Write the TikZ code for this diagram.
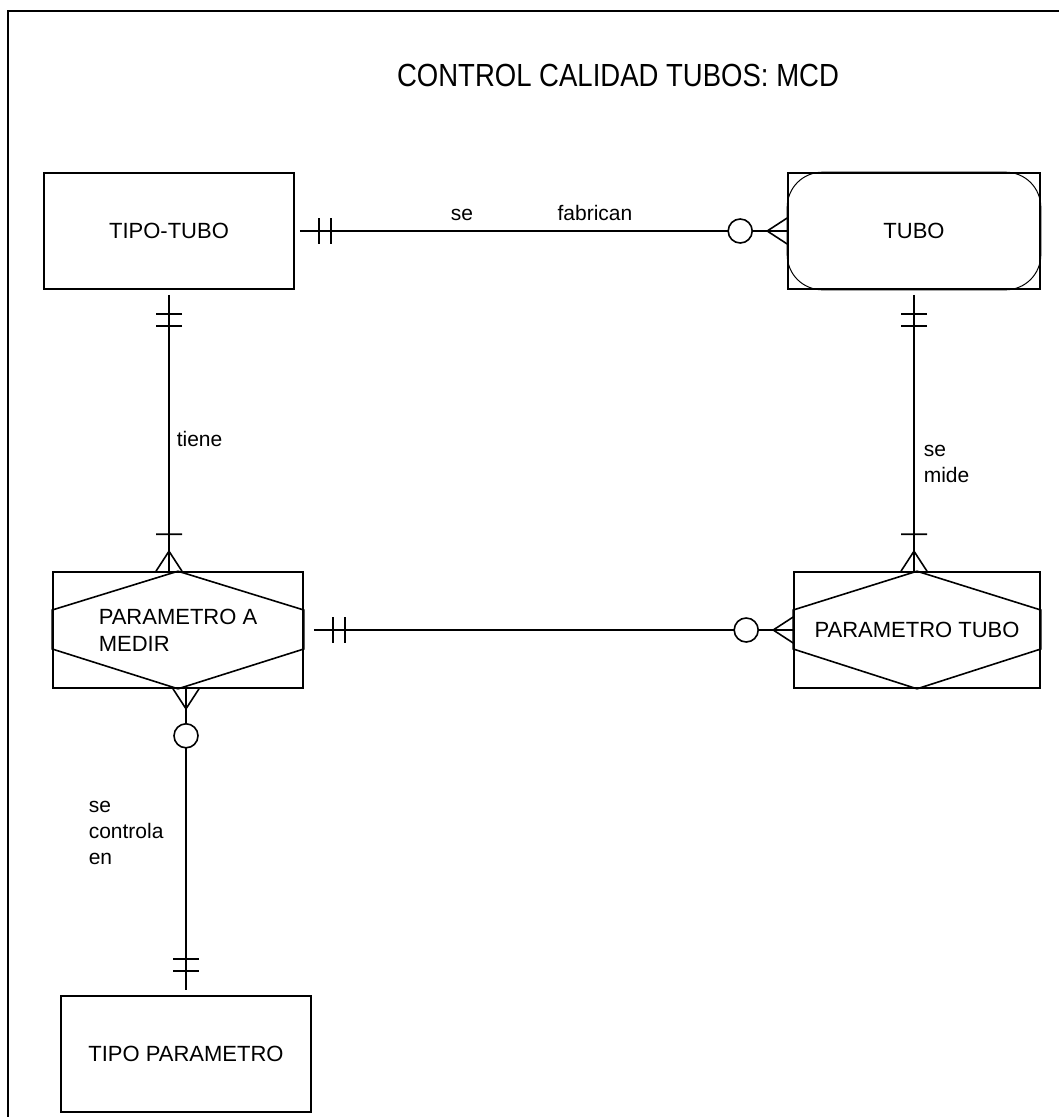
\documentclass[tikz,border=0pt]{standalone}
\usepackage{fontspec}
\setmainfont{Liberation Sans}
\usetikzlibrary{calc}

\tikzset{
  entity/.style={draw, minimum width=250pt, minimum height=116pt, inner sep=0pt,
    font=\fontsize{22}{27}\selectfont, align=center},
  relline/.style={line width=1.6pt},
  lbl/.style={font=\fontsize{21}{26}\selectfont, inner sep=0pt, align=left},
  titletext/.style={font=\fontsize{32}{36}\selectfont, inner sep=0pt, xscale=0.86},
  % cardinality marks, +x points away from the box
  onemark/.pic={\draw (24,-13) -- (24,13) (36,-13) -- (36,13);},
  manyone/.pic={\draw (0,-13) -- (20,0) -- (0,13) (0,0) -- (20,0) (37,-13) -- (37,13);},
  manyzero/.pic={\draw (0,-13) -- (20,0) -- (0,13) (0,0) -- (20,0);
    \draw[fill=white] (47,0) circle[radius=12pt];}
}

\begin{document}
\begin{tikzpicture}[x=1pt, y=-1pt, line width=1.6pt]
  \useasboundingbox (0,0) rectangle (1059,1117);
  \draw (8,1117) -- (8,11) -- (1059,11);

  \node[titletext] (title) at (618,75) {CONTROL CALIDAD TUBOS: MCD};

  % entities
  \node[entity] (ttubo) at (169,231) {TIPO-TUBO};
  \node[entity, minimum width=252pt] (tubo) at (914,231) {TUBO};
  \draw[line width=1pt, rounded corners=35pt] (tubo.north west) rectangle (tubo.south east);
  \node[entity, align=left] (pmedir) at (178,630) {PARAMETRO A\\MEDIR};
  \node[entity, minimum width=246pt] (ptubo) at (917,630) {PARAMETRO TUBO};
  \node[entity] (tparam) at (186,1054) {TIPO PARAMETRO};

  % associative entities
  \draw (pmedir.north) -- ($(pmedir.west)+(0,-20)$) -- ($(pmedir.west)+(0,19)$) -- (pmedir.south)
    -- ($(pmedir.east)+(0,19)$) -- ($(pmedir.east)+(0,-20)$) -- cycle;
  \draw (ptubo.north) -- ($(ptubo.west)+(0,-20)$) -- ($(ptubo.west)+(0,19)$) -- (ptubo.south)
    -- ($(ptubo.east)+(0,19)$) -- ($(ptubo.east)+(0,-20)$) -- cycle;

  \coordinate (pmtop) at (ttubo.south |- pmedir.north);
  \coordinate (pttop) at (tubo.south |- ptubo.north);
  \coordinate (pmbot) at (tparam.north |- pmedir.south);

  % relationships
  \draw[relline, shorten <=5pt] (ttubo.east) -- (tubo.west);
  \draw[relline, shorten <=5pt] (ttubo.south) -- (pmtop);
  \draw[relline, shorten <=5pt] (tubo.south) -- (pttop);
  \draw[relline, shorten <=10pt] (pmedir.east) -- (ptubo.west);
  \draw[relline, shorten >=5pt] (pmbot) -- (tparam.north);

  \pic at (ttubo.east) {onemark};
  \pic[rotate=180] at (tubo.west) {manyzero};
  \pic[rotate=-90] at (ttubo.south) {onemark};
  \pic[rotate=90] at (pmtop) {manyone};
  \pic[rotate=-90] at (tubo.south) {onemark};
  \pic[rotate=90] at (pttop) {manyone};
  \pic at ($(pmedir.east)+(5,0)$) {onemark};
  \pic[rotate=180] at (ptubo.west) {manyzero};
  \pic[rotate=-90] at (pmbot) {manyzero};
  \pic[rotate=90] at (tparam.north) {onemark};

  % labels
  \node[lbl, anchor=base] (se) at (462,220) {se};
  \node[lbl, anchor=base] (fabrican) at (595,220) {fabrican};
  \node[lbl, anchor=base west] (tiene) at (176,446) {tiene};
  \node[lbl, anchor=north west] (semide) at (923,444) {se\\mide};
  \node[lbl, anchor=north west] (secontrola) at (88,800) {se\\controla\\en};
\end{tikzpicture}
\end{document}
